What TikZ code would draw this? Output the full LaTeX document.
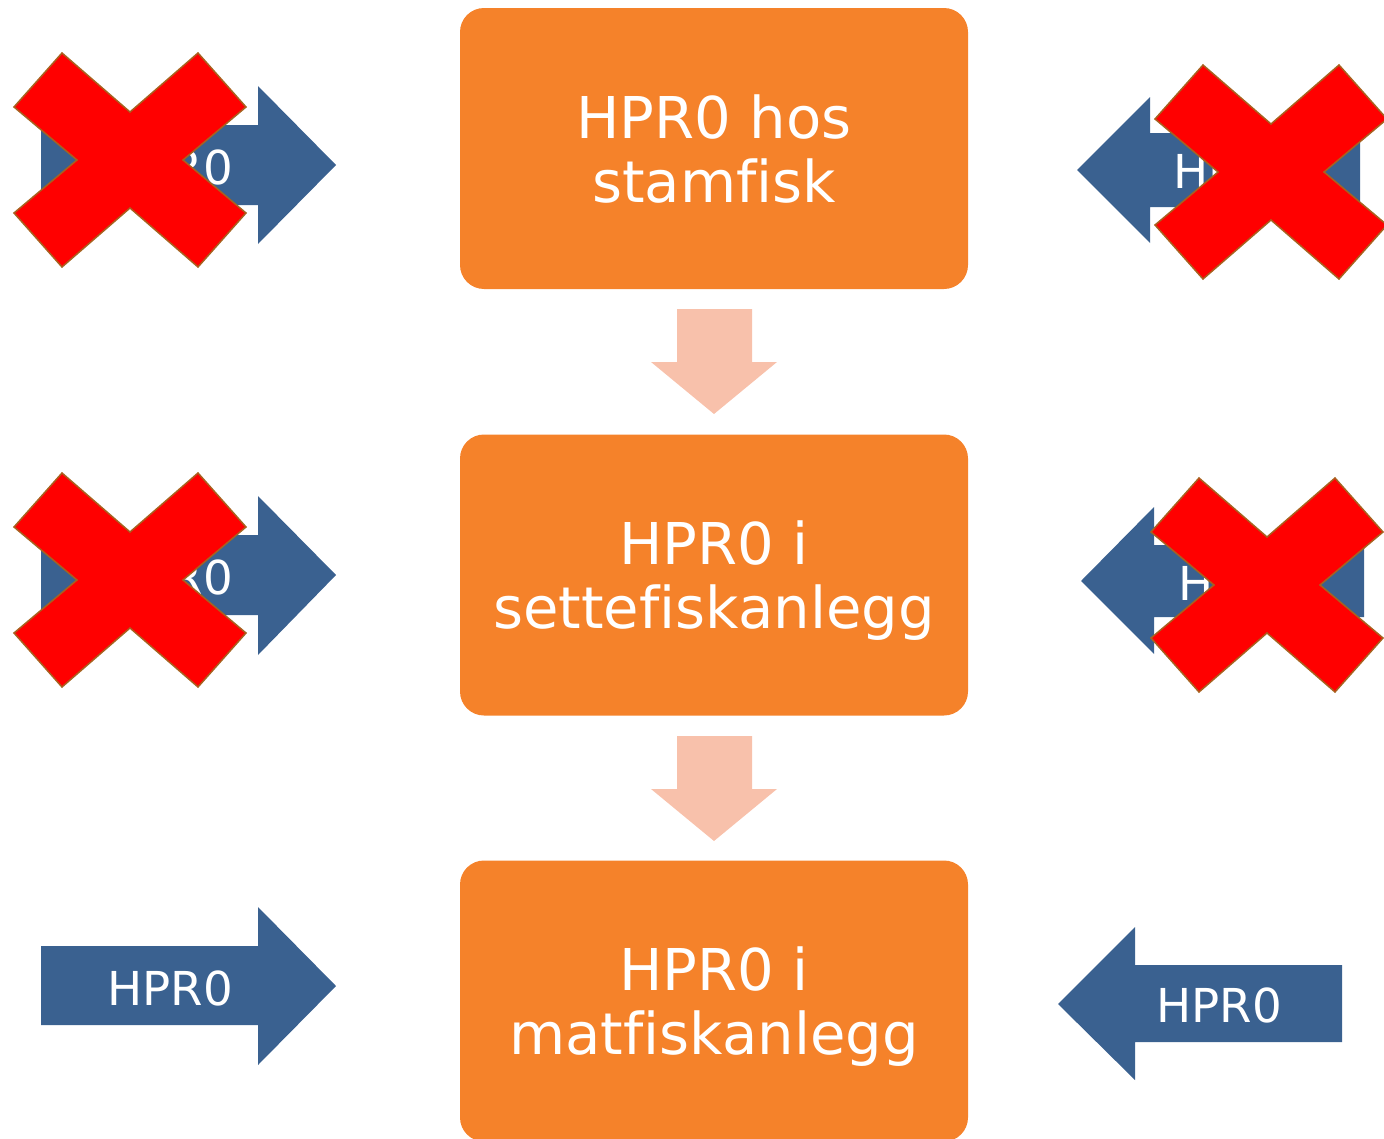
\documentclass[tikz,border=0pt]{standalone}
\usepackage{fontspec}
\setmainfont[Ligatures=NoCommon]{DejaVu Sans}
\usepackage{tikz}
\definecolor{stageorange}{HTML}{F5822A}
\definecolor{flowpeach}{HTML}{F8C1AB}
\definecolor{inblue}{HTML}{3A6190}
\definecolor{crossred}{HTML}{FF0000}
\definecolor{crossedge}{HTML}{A8611F}

\begin{document}
\begin{tikzpicture}[
    x=0.1mm, y=-0.1mm,
    stage/.style={fill=stageorange,rounded corners=2.4mm,minimum width=50.8mm,
                  minimum height=28.1mm,align=center,text=white,inner sep=0pt,
                  text depth=0pt,font=\fontsize{16.4}{18.2}\selectfont},
    flow/.style={fill=flowpeach},
    inflow/.style={fill=inblue},
    inlabel/.style={text=white,inner sep=0pt,font=\fontsize{13.3}{15}\selectfont},
    crossline/.style={fill=crossred,draw=crossedge,line width=0.15mm,line join=miter},
    % the cross is drawn round its own centre, in picture units
    redcross/.pic={\draw[crossline] (-116,-53) -- (-68,-107) -- (0,-48) -- (68,-107)
      -- (116,-53) -- (53,0) -- (116,53) -- (68,107) -- (0,48) -- (-68,107)
      -- (-116,53) -- (-53,0) -- cycle;}
  ]
  \clip (0,0) rectangle (1384,1139);

  % stages
  \node[stage] (sBrood) at (714,148.5) {HPR0 hos\\stamfisk};
  \node[stage] (sSmolt) at (714,575)   {HPR0 i\\settefiskanlegg};
  \node[stage] (sFarm)  at (714,1001)  {HPR0 i\\matfiskanlegg};

  % flow between stages
  \fill[flow] (677,309) -- (752,309) -- (752,362) -- (777,362) -- (714,414)
    -- (651,362) -- (677,362) -- cycle;
  \fill[flow] (677,736) -- (752,736) -- (752,789) -- (777,789) -- (714,841)
    -- (651,789) -- (677,789) -- cycle;

  % HPR0 coming in from the left
  \fill[inflow] (41,125) -- (258,125) -- (258,86) -- (336,165) -- (258,244)
    -- (258,205) -- (41,205) -- cycle;
  \fill[inflow] (41,535) -- (258,535) -- (258,496) -- (336,575) -- (258,655)
    -- (258,615) -- (41,615) -- cycle;
  \fill[inflow] (41,946) -- (258,946) -- (258,907) -- (336,986) -- (258,1065)
    -- (258,1025) -- (41,1025) -- cycle;
  \node[inlabel] (tL1) at (170,167) {HPR0};
  \node[inlabel] (tL2) at (170,577) {HPR0};
  \node[inlabel] (tL3) at (170,988) {HPR0};

  % HPR0 coming in from the right
  \fill[inflow] (1360,133) -- (1150,133) -- (1150,97) -- (1077,170) -- (1150,243)
    -- (1150,207) -- (1360,207) -- cycle;
  \fill[inflow] (1364,545) -- (1154,545) -- (1154,507) -- (1081,581) -- (1154,654)
    -- (1154,617) -- (1364,617) -- cycle;
  \fill[inflow] (1342,965) -- (1135,965) -- (1135,927) -- (1058,1004) -- (1135,1080)
    -- (1135,1042) -- (1342,1042) -- cycle;
  \node[inlabel] (tR1) at (1236,171) {HPR0};
  \node[inlabel] (tR2) at (1241,583) {HPR0};
  \node[inlabel] (tR3) at (1219,1005) {HPR0};

  % blocked routes
  \pic at (130,160)  {redcross};
  \pic at (130,580)  {redcross};
  \pic at (1271,172) {redcross};
  \pic at (1267,585) {redcross};

\end{tikzpicture}
\end{document}
